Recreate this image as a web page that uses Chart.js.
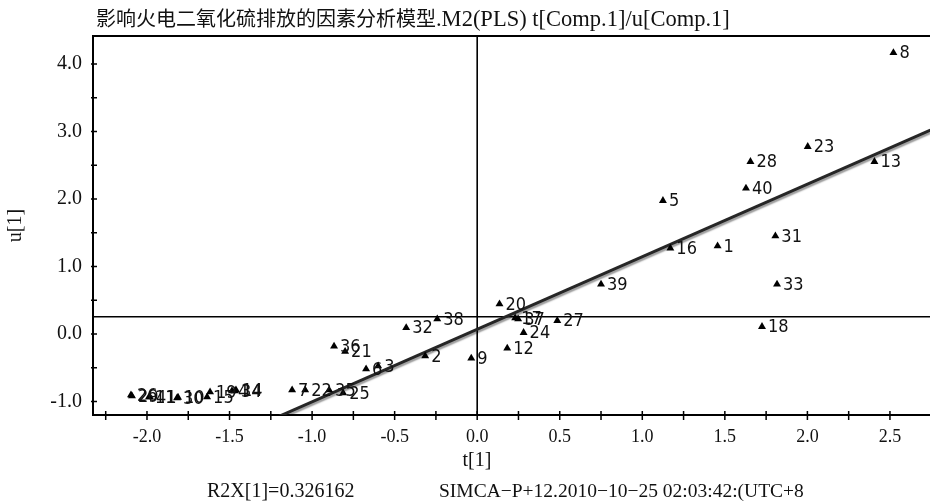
<!DOCTYPE html>
<html>
<head>
<meta charset="utf-8">
<script src="https://cdn.jsdelivr.net/npm/chart.js@4.4.1/dist/chart.umd.min.js"></script>
<style>
  html, body { margin: 0; padding: 0; background: #fff; overflow: hidden; }
  #wrap { width: 935px; height: 502px; position: relative; }
</style>
</head>
<body>
<div id="wrap"><canvas id="c"></canvas></div>
<script>
// PLS score plot: t[1] (X scores) against u[1] (Y scores), one triangle per observation
const obsIds = [1, 2, 3, 4, 5, 6, 7, 8, 9, 10, 11, 12, 13, 14, 15, 16, 17, 18, 19, 20,
                21, 22, 23, 24, 25, 26, 27, 28, 29, 30, 31, 32, 33, 34, 35, 36, 37, 38, 39, 40, 41];
const tScore = [1.456, -0.315, -0.600, -1.485, 1.125, -0.673, -1.121, 2.521, -0.036, -1.812,
                -1.988, 0.182, 2.406, -1.461, -1.636, 1.170, 0.230, 1.725, -1.618, 0.135,
                -0.800, -1.042, 2.002, 0.281, -0.812, -2.097, 0.485, 1.655, -2.091, -1.818,
                1.806, -0.430, 1.816, -1.467, -0.897, -0.867, 0.248, -0.242, 0.750, 1.628, -1.982];
const uScore = [1.304, -0.326, -0.474, -0.844, 1.975, -0.519, -0.830, 4.167, -0.360, -0.940,
                -0.933, -0.212, 2.553, -0.830, -0.933, 1.270, 0.237, 0.108, -0.859, 0.444,
                -0.259, -0.830, 2.775, 0.019, -0.874, -0.904, 0.197, 2.553, -0.919, -0.948,
                1.452, 0.093, 0.736, -0.844, -0.830, -0.182, 0.222, 0.222, 0.736, 2.159, -0.933];

// Fitted inner relation u = a + b·t
const fitSlope = 1.075;
const fitIntercept = 0.07;

// Reference cross lines
const tRef = 0;
const uRef = 0.256;

// Axis ranges, tick positions and tick labels
const tRange = [-2.327, 2.745];
const uRange = [-1.2, 4.415];
const xTickValues = [-2.25, -2.0, -1.75, -1.5, -1.25, -1.0, -0.75, -0.5, -0.25, 0.0,
                     0.25, 0.5, 0.75, 1.0, 1.25, 1.5, 1.75, 2.0, 2.25, 2.5];
const xTickLabels = ['-2.0', '-1.5', '-1.0', '-0.5', '0.0', '0.5', '1.0', '1.5', '2.0', '2.5'];
const yTickValues = [-1.0, -0.5, 0.0, 0.5, 1.0, 1.5, 2.0, 2.5, 3.0, 3.5, 4.0];
const yTickLabels = ['-1.0', '0.0', '1.0', '2.0', '3.0', '4.0'];

const titleCjk = '影响火电二氧化硫排放的因素分析模型';
const titleLatin = '.M2(PLS) t[Comp.1]/u[Comp.1]';
const xTitle = 't[1]';
const yTitle = 'u[1]';
const footLeft = 'R2X[1]=0.326162';
const footRight = 'SIMCA\u2212P+12.2010\u221210\u221225 02:03:42:(UTC+8';

const serif = '"Liberation Serif", "Times New Roman", serif';
const cjk = '"Noto Sans CJK SC", "Liberation Serif", sans-serif';
const narrow = '"Liberation Sans Narrow", "DejaVu Sans Condensed", "Liberation Sans", sans-serif';

const points = obsIds.map((id, i) => ({ x: tScore[i], y: uScore[i], id }));
const fitLine = [tRange[0], tRange[1]].map(t => ({ x: t, y: fitIntercept + fitSlope * t }));

function labelFor(list, v) {
  const hit = list.find(s => Math.abs(parseFloat(s) - v) < 1e-9);
  return hit === undefined ? '' : hit;
}

const decor = {
  id: 'decor',
  beforeDatasetsDraw(chart) {
    const { ctx, chartArea: a, scales: { x, y } } = chart;
    ctx.save();
    ctx.strokeStyle = '#000';
    // cross lines through the reference point
    ctx.lineWidth = 1.6;
    const px = x.getPixelForValue(tRef);
    const py = y.getPixelForValue(uRef);
    ctx.beginPath();
    ctx.moveTo(px, a.top); ctx.lineTo(px, a.bottom);
    ctx.moveTo(a.left, py); ctx.lineTo(a.right, py);
    ctx.stroke();
    // top frame line
    ctx.lineWidth = 2;
    ctx.beginPath();
    ctx.moveTo(a.left, a.top); ctx.lineTo(a.right, a.top);
    ctx.stroke();
    // tick marks crossing the axis lines
    ctx.lineWidth = 1.5;
    ctx.beginPath();
    x.ticks.forEach(t => {
      const p = x.getPixelForValue(t.value);
      ctx.moveTo(p, a.bottom - 4); ctx.lineTo(p, a.bottom + 5);
    });
    y.ticks.forEach(t => {
      const p = y.getPixelForValue(t.value);
      ctx.moveTo(a.left - 2, p); ctx.lineTo(a.left + 4, p);
    });
    ctx.stroke();
    ctx.restore();
  },
  beforeDatasetDraw(chart, args) {
    if (args.index !== 0) return;
    const ctx = chart.ctx;
    ctx.save();
    ctx.shadowColor = 'rgba(0,0,0,0.4)';
    ctx.shadowOffsetY = 2.5;
    ctx.shadowBlur = 1.5;
  },
  afterDatasetDraw(chart, args) {
    if (args.index !== 0) return;
    chart.ctx.restore();
  },
  afterDatasetsDraw(chart) {
    const { ctx } = chart;
    const meta = chart.getDatasetMeta(1);
    ctx.save();
    ctx.fillStyle = '#111';
    ctx.font = '18px ' + narrow;
    ctx.textAlign = 'left';
    ctx.textBaseline = 'middle';
    meta.data.forEach((el, i) => {
      ctx.fillText(String(points[i].id), el.x + 6, el.y + 1);
    });
    ctx.restore();
  },
  afterDraw(chart) {
    const { ctx } = chart;
    ctx.save();
    ctx.fillStyle = '#111';
    ctx.textBaseline = 'alphabetic';
    ctx.textAlign = 'left';
    ctx.font = '20px ' + cjk;
    ctx.fillText(titleCjk, 96, 26);
    const w = ctx.measureText(titleCjk).width;
    ctx.font = '22.5px ' + serif;
    ctx.fillText(titleLatin, 96 + w, 26);
    ctx.font = '20px ' + serif;
    ctx.textAlign = 'center';
    ctx.fillText(xTitle, 477, 466);
    ctx.textAlign = 'left';
    ctx.font = '20px ' + serif;
    ctx.fillText(footLeft, 207, 497);
    ctx.font = '19.5px ' + serif;
    ctx.fillText(footRight, 439, 497);
    ctx.restore();
  }
};

new Chart(document.getElementById('c'), {
  data: {
    datasets: [
      {
        type: 'line',
        data: fitLine,
        borderColor: '#262626',
        borderWidth: 3,
        pointRadius: 0,
        fill: false,
        order: 1
      },
      {
        type: 'scatter',
        data: points,
        pointStyle: 'triangle',
        pointRadius: 4.6,
        backgroundColor: '#000',
        borderColor: '#000',
        borderWidth: 0,
        order: 0
      }
    ]
  },
  options: {
    responsive: true,
    maintainAspectRatio: false,
    animation: false,
    events: [],
    layout: { padding: { top: 36, left: 0, right: 0, bottom: 0 } },
    plugins: { legend: { display: false }, tooltip: { enabled: false }, title: { display: false } },
    scales: {
      x: {
        type: 'linear',
        position: 'bottom',
        min: tRange[0],
        max: tRange[1],
        afterBuildTicks: s => { s.ticks = xTickValues.map(v => ({ value: v })); },
        afterFit: s => { s.height = 87; s.paddingLeft = 0; s.paddingRight = 0; },
        grid: { display: false, drawTicks: false },
        border: { display: true, color: '#000', width: 2 },
        ticks: {
          autoSkip: false,
          maxRotation: 0,
          padding: 11,
          color: '#111',
          font: { family: serif, size: 18 },
          callback: v => labelFor(xTickLabels, v)
        }
      },
      y: {
        type: 'linear',
        position: 'left',
        min: uRange[0],
        max: uRange[1],
        afterBuildTicks: s => { s.ticks = yTickValues.map(v => ({ value: v })); },
        afterFit: s => { s.width = 93; s.paddingTop = 0; s.paddingBottom = 0; },
        grid: { display: false, drawTicks: false },
        border: { display: true, color: '#000', width: 2 },
        title: {
          display: true,
          text: yTitle,
          color: '#111',
          font: { family: serif, size: 20 },
          padding: { top: 4, bottom: 0 }
        },
        ticks: {
          autoSkip: false,
          padding: 11,
          color: '#111',
          font: { family: serif, size: 20 },
          callback: v => labelFor(yTickLabels, v)
        }
      }
    }
  },
  plugins: [decor]
});
</script>
</body>
</html>
